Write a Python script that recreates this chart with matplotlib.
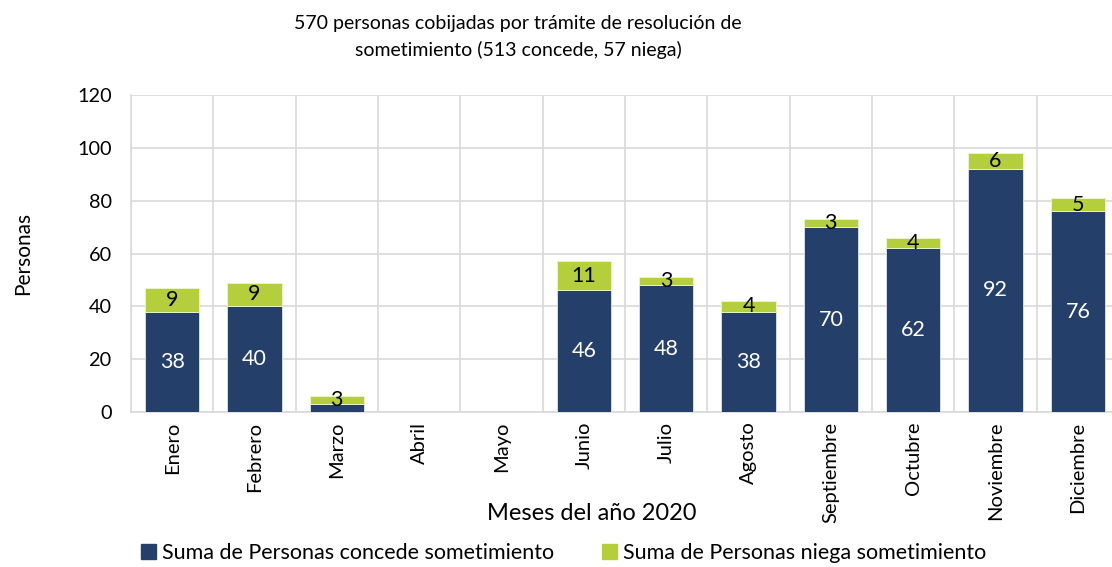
import numpy as np
import matplotlib.pyplot as plt
from matplotlib.patches import Patch

meses = ['Enero', 'Febrero', 'Marzo', 'Abril', 'Mayo', 'Junio', 'Julio',
         'Agosto', 'Septiembre', 'Octubre', 'Noviembre', 'Diciembre']
concede = [38, 40, 3, 0, 0, 46, 48, 38, 70, 62, 92, 76]
niega = [9, 9, 3, 0, 0, 11, 3, 4, 3, 4, 6, 5]

azul = '#253f6b'
verde = '#b4cf3b'

plt.rcParams['font.family'] = ['Lato', 'DejaVu Sans']

fig = plt.figure(figsize=(11.12, 5.67), dpi=100)
# el area de trazado sale un poco del borde derecho, como en el original
ax = fig.add_axes([0.1178, 0.2734, 0.8885, 0.559])

x = np.arange(len(meses))
ax.bar(x, concede, width=0.66, color=azul, edgecolor='#dfe5ee', linewidth=0.6, zorder=3)
ax.bar(x, niega, width=0.66, bottom=concede, color=verde, edgecolor='#eef5d0',
       linewidth=0.6, zorder=3)

# etiquetas de datos
for i in range(len(meses)):
    if concede[i] > 5:
        ax.text(x[i], concede[i] / 2, str(concede[i]), ha='center', va='center',
                color='white', fontsize=15.5, zorder=4)
    if niega[i] > 0:
        ax.text(x[i], concede[i] + niega[i] / 2, str(niega[i]), ha='center',
                va='center', color='black', fontsize=15.5, zorder=4)

ax.set_xlim(-0.5, len(meses) - 0.5)
ax.set_ylim(0, 120)
ax.set_yticks(range(0, 121, 20))
ax.set_xticks(x)
ax.set_xticklabels(meses, rotation=90, fontsize=14.5)
ax.tick_params(axis='y', labelsize=14.3, length=0, pad=14)
ax.tick_params(axis='x', length=0, pad=7)

ax.set_xticks(np.arange(-0.5, len(meses), 1), minor=True)
ax.grid(axis='y', color='#d9d9d9', linewidth=1.2, zorder=0)
ax.grid(axis='x', which='minor', color='#d9d9d9', linewidth=1.2, zorder=0)
ax.tick_params(axis='x', which='minor', length=0)

for s in ['top', 'right']:
    ax.spines[s].set_visible(False)
ax.spines['left'].set_color('#d9d9d9')
ax.spines['bottom'].set_color('#d9d9d9')
ax.spines['left'].set_linewidth(1.2)
ax.spines['bottom'].set_linewidth(1.2)

fig.text(0.021, 0.5525, 'Personas', rotation=90, ha='center', va='center', fontsize=15)
fig.text(0.532, 0.083, 'Meses del año 2020', ha='center', fontsize=17)

fig.text(0.466, 0.935, '570 personas cobijadas por trámite de resolución de\n'
         'sometimiento (513 concede, 57 niega)', ha='center', va='center',
         fontsize=14, linespacing=1.6)

handles = [Patch(color=azul), Patch(color=verde)]
fig.legend(handles, ['Suma de Personas concede sometimiento',
                     'Suma de Personas niega sometimiento'],
           loc='center', bbox_to_anchor=(0.507, 0.025), ncol=2, frameon=False,
           fontsize=15.5, handlelength=0.7, handleheight=0.7, handletextpad=0.3,
           columnspacing=2.2)

fig.savefig('out.png', dpi=100)
